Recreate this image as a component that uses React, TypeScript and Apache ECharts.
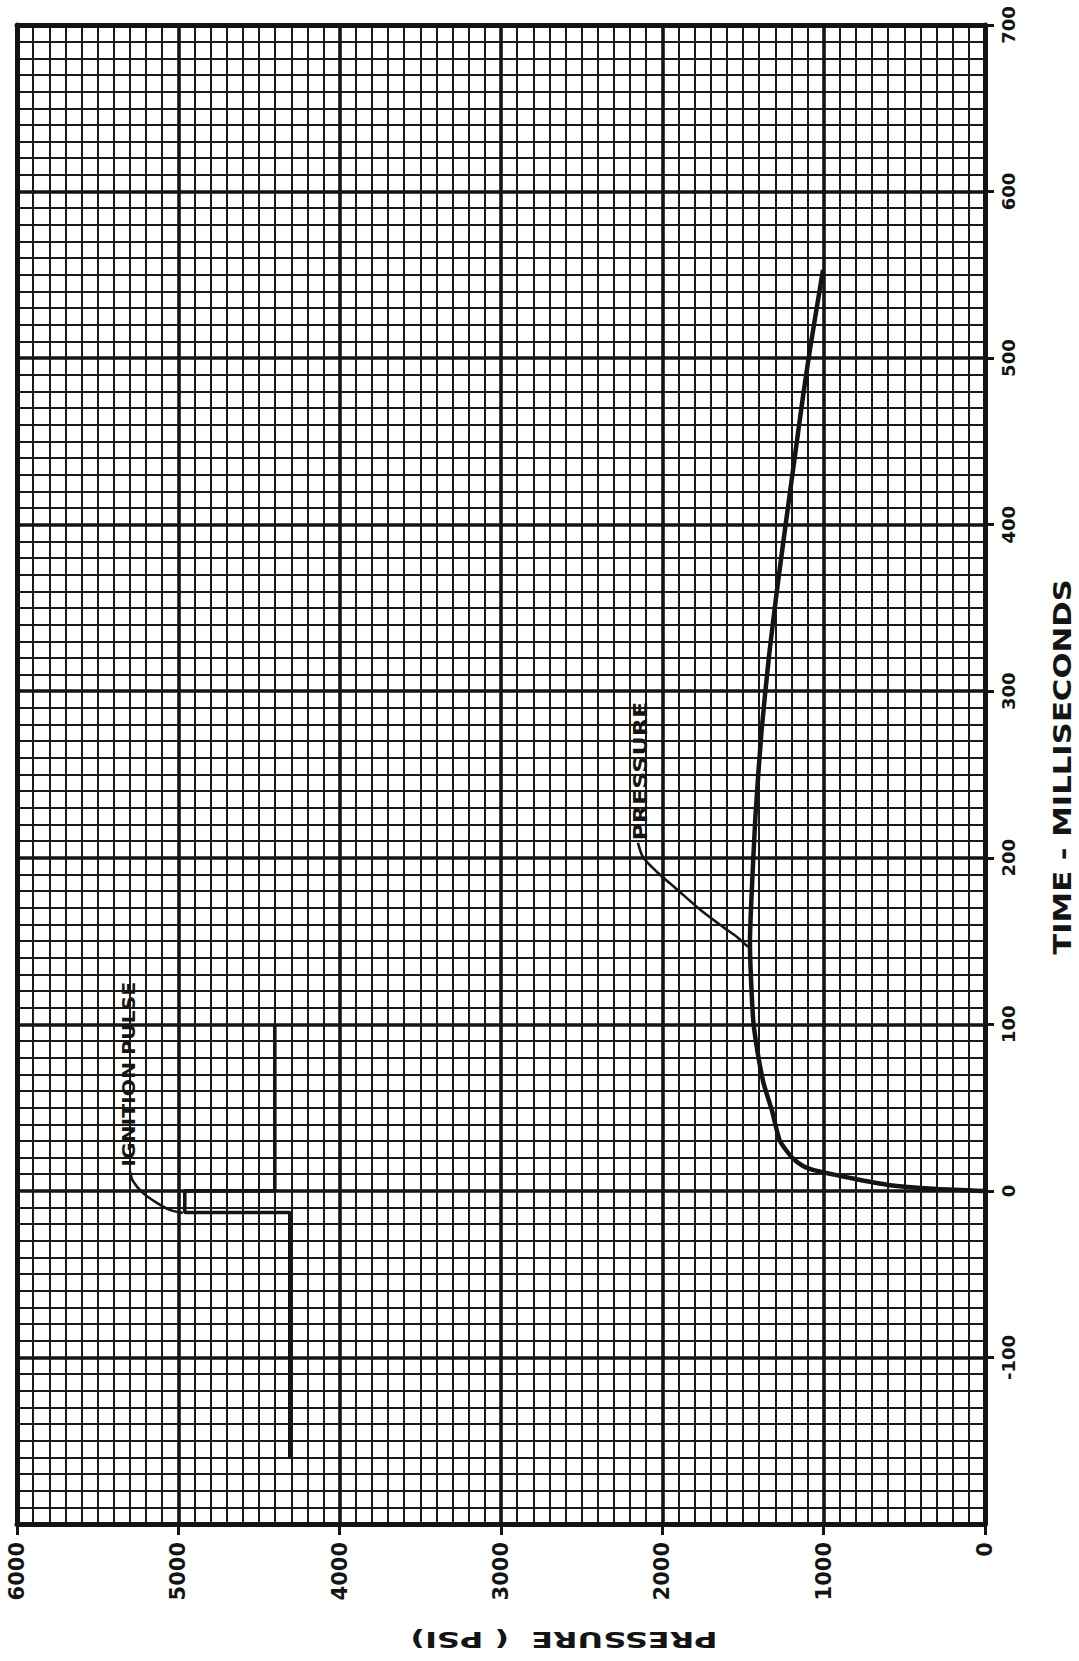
import React, { useEffect, useRef } from "react";
import * as echarts from "echarts";

// ---- data (pressure psi, time ms) ----
const pressureRange = [0, 6000];
const timeRange = [-200, 700];
const pressureMinorStep = 100;
const pressureMajorStep = 1000;
const timeMinorStep = 10;
const timeMajorStep = 100;
const pressureTickValues = [0, 1000, 2000, 3000, 4000, 5000, 6000];
const timeTickValues = [-100, 0, 100, 200, 300, 400, 500, 600, 700];

const pressureCurve: number[][] = [
  [0, 0], [300, 1.2], [600, 3.6], [837, 7.8], [1041, 12], [1128, 15], [1196, 20], [1271, 30],
  [1320, 48], [1376, 66], [1432, 98], [1446, 118], [1457, 149], [1448, 175],
  [1423, 225], [1386, 275], [1339, 321], [1289, 361], [1240, 397], [1187, 435],
  [1128, 477], [1082, 507], [1004, 553],
];

const ignitionPulse: number[][] = [
  [4309, -160], [4309, -13], [4960, -13], [4960, 0], [4402, 0], [4402, 100],
];

const pressureLeader: number[][] = [
  [2151, 209], [2120, 200.5], [2033, 191.5], [1909, 181], [1767, 169],
  [1624, 158.5], [1537, 152.5], [1469, 146.5],
];

const ignitionLeader: number[][] = [
  [5300, 12], [5282, 6], [5220, -1.2], [5133, -7.2], [5053, -11.4], [4972, -13.2],
];

const pressureLabelAt = [2139, 252];
const ignitionLabelAt = [5307, 70];

const FONT = '"DejaVu Sans", "Liberation Sans", sans-serif';
const INK = "#141414";

export default function App() {
  const ref = useRef<HTMLDivElement>(null);

  useEffect(() => {
    const chart = echarts.init(ref.current as HTMLDivElement, null, { renderer: "svg" });
    const minorLine = { show: true, lineStyle: { color: "#1a1a1a", width: 2 } };
    const majorLine = { show: true, lineStyle: { color: INK, width: 3.6 } };
    const frame = { show: true, onZero: false, lineStyle: { color: INK, width: 5 } };
    const plain = (v: number) => String(v);

    chart.setOption({
      animation: false,
      backgroundColor: "#fff",
      grid: { left: 17, right: 94, top: 25, bottom: 137, containLabel: false },
      xAxis: [
        {
          type: "value", min: pressureRange[0], max: pressureRange[1], inverse: true,
          interval: pressureMinorStep, position: "top",
          axisLine: frame, axisTick: { show: false }, axisLabel: { show: false },
          splitLine: minorLine,
        },
        {
          type: "value", min: pressureRange[0], max: pressureRange[1], inverse: true,
          interval: pressureMajorStep, position: "bottom",
          axisLine: frame,
          axisTick: { show: true, length: 11, lineStyle: { color: INK, width: 3 }, customValues: pressureTickValues },
          axisLabel: {
            rotate: 90, margin: 18, fontSize: 21, fontWeight: "bold", fontFamily: FONT, color: INK,
            customValues: pressureTickValues, formatter: plain,
          },
          splitLine: majorLine,
        },
      ],
      yAxis: [
        {
          type: "value", min: timeRange[0], max: timeRange[1], interval: timeMinorStep,
          position: "left",
          axisLine: frame, axisTick: { show: false }, axisLabel: { show: false },
          splitLine: minorLine,
        },
        {
          type: "value", min: timeRange[0], max: timeRange[1], interval: timeMajorStep,
          position: "right",
          axisLine: frame,
          axisTick: { show: true, length: 9, lineStyle: { color: INK, width: 3 }, customValues: timeTickValues },
          axisLabel: {
            rotate: 90, margin: 14, fontSize: 18, fontWeight: "bold", fontFamily: FONT, color: INK,
            customValues: timeTickValues, formatter: plain,
          },
          splitLine: majorLine,
        },
      ],
      series: [
        {
          type: "line", xAxisIndex: 0, yAxisIndex: 0, data: pressureCurve, smooth: 0.2,
          symbol: "none", lineStyle: { color: INK, width: 4.5 }, z: 5,
        },
        {
          type: "line", xAxisIndex: 0, yAxisIndex: 0, data: ignitionPulse, smooth: false,
          symbol: "none", lineStyle: { color: INK, width: 3.6 }, z: 5,
        },
        {
          type: "line", xAxisIndex: 0, yAxisIndex: 0, data: pressureLeader, smooth: 0.3,
          symbol: "none", lineStyle: { color: INK, width: 2.6 }, z: 5,
        },
        {
          type: "line", xAxisIndex: 0, yAxisIndex: 0, data: ignitionLeader, smooth: 0.3,
          symbol: "none", lineStyle: { color: INK, width: 2.6 }, z: 5,
        },
      ],
    });

    const px = (p: number[]) => chart.convertToPixel({ seriesIndex: 0 }, p) as number[];
    const pr = px(pressureLabelAt);
    const ig = px(ignitionLabelAt);

    chart.setOption({
      graphic: [
        {
          type: "text", x: 1062, y: 767, rotation: Math.PI / 2, scaleX: 1.28,
          style: {
            text: "TIME - MILLISECONDS", fontSize: 24, fontWeight: "bold", fontFamily: FONT,
            fill: INK, align: "center", verticalAlign: "middle",
          },
        },
        {
          type: "text", x: 564, y: 1640, rotation: Math.PI, scaleX: 1.45,
          style: {
            text: "PRESSURE  ( PSI)", fontSize: 22, fontWeight: "bold", fontFamily: FONT,
            fill: INK, align: "center", verticalAlign: "middle",
          },
        },
        {
          type: "text", x: pr[0], y: pr[1], rotation: Math.PI / 2, scaleX: 1.25, z: 10,
          style: {
            text: "PRESSURE", fontSize: 19, fontWeight: "bold", fontFamily: FONT,
            fill: INK, align: "center", verticalAlign: "middle",
          },
        },
        {
          type: "text", x: ig[0], y: ig[1], rotation: Math.PI / 2, scaleX: 1.2, z: 10,
          style: {
            text: "IGNITION PULSE", fontSize: 17, fontWeight: "bold", fontFamily: FONT,
            fill: INK, align: "center", verticalAlign: "middle",
          },
        },
      ],
    });

    return () => chart.dispose();
  }, []);

  return (
    <div
      ref={ref}
      style={{ position: "absolute", left: 0, top: 0, width: 1079, height: 1661, background: "#fff" }}
    />
  );
}
